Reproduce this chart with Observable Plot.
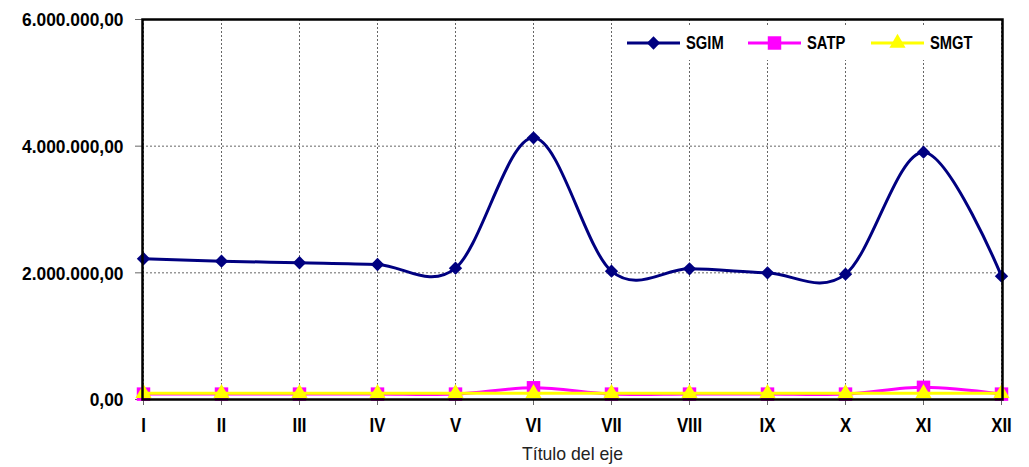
<!DOCTYPE html>
<html><head><meta charset="utf-8">
<script src="https://cdn.jsdelivr.net/npm/d3@7"></script>
<script src="https://cdn.jsdelivr.net/npm/@observablehq/plot@0.6"></script>
<style>
body{margin:0;background:#fff;}
#wrap{position:relative;width:1029px;height:467px;overflow:hidden;}
#legend{position:absolute;left:615px;top:25px;width:380px;height:35px;background:#fff;}
</style></head><body><div id="wrap"></div>
<script>
const months = ["I","II","III","IV","V","VI","VII","VIII","IX","X","XI","XII"];
const sgim = [2222000, 2184000, 2159000, 2132000, 2074000, 4132000, 2026000, 2063000, 2000000, 1979000, 3905000, 1947000];
const satp = [85000, 85000, 85000, 85000, 85000, 185000, 85000, 85000, 85000, 85000, 192000, 85000];
const smgt = [97000, 97000, 97000, 97000, 97000, 97000, 97000, 97000, 97000, 97000, 97000, 97000];
const yTicks = [0, 2000000, 4000000, 6000000];
const seriesNames = ["SGIM", "SATP", "SMGT"];
const seriesValues = [sgim, satp, smgt];
const colors = ["#000080", "#FF00FF", "#FFFF00"];
const symbols = ["diamond2", "square", "triangle"];
const symbolR = [6.0, 7.6, 6.0];
const axisTitle = "Título del eje";

const FONT = "'Liberation Sans',Arial,sans-serif";
const NARROW = 0.82;
const loc = d3.formatLocale({decimal: ",", thousands: ".", grouping: [3], currency: ["", ""]});
const fmt = loc.format(",.2f");

const data = seriesNames.flatMap((s, i) => months.map((m, j) => ({series: s, month: m, value: seriesValues[i][j]})));

const seriesMarks = seriesNames.flatMap((s, i) => {
  const d = data.filter(r => r.series === s);
  return [
    Plot.line(d, {x: "month", y: "value", stroke: colors[i], strokeWidth: 3, curve: "cardinal"}),
    Plot.dot(d, {x: "month", y: "value", symbol: () => symbols[i], fill: colors[i], stroke: "none", r: symbolR[i]})
  ];
});

const chart = Plot.plot({
  width: 1029, height: 467,
  marginLeft: 142, marginRight: 27, marginTop: 19, marginBottom: 68,
  style: {fontFamily: FONT, background: "white", color: "black"},
  x: {type: "point", domain: months, padding: 0, label: null},
  y: {domain: [0, 6000000], label: null},
  marks: [
    Plot.gridX(months, {stroke: "#666", strokeOpacity: 1, strokeDasharray: "2,2", strokeWidth: 1}),
    Plot.gridY([2000000, 4000000], {stroke: "#666", strokeOpacity: 1, strokeDasharray: "2,2", strokeWidth: 1}),
    Plot.axisY(yTicks, {tickFormat: fmt, tickSize: 7, tickPadding: 12, fontSize: 18.5, fontWeight: "bold", stroke: "#666", label: null}),
    Plot.axisX(months, {tickSize: 6, tickPadding: 12, fontSize: 20.5, fontWeight: "bold", stroke: "#666", label: null}),
    Plot.text([axisTitle], {frameAnchor: "bottom", dy: 60, fontSize: 18.6, fill: "#222"}),
    ...seriesMarks,
    Plot.frame({stroke: "black", strokeWidth: 2.5})
  ]
});
const wrap = document.getElementById("wrap");
wrap.appendChild(chart);

// condense text horizontally (Arial Narrow look)
function condense(el, k, dy) {
  const t = el.getAttribute("transform");
  const extra = `${dy ? ` translate(0,${dy})` : ""} scale(${k},1)`;
  if (t) {
    el.setAttribute("transform", t + extra);
  } else {
    const x = +el.getAttribute("x") || 0, y = +el.getAttribute("y") || 0;
    el.removeAttribute("x"); el.removeAttribute("y");
    el.setAttribute("transform", `translate(${x},${y})` + extra);
  }
}
const yFmt = new Set(yTicks.map(fmt));
chart.querySelectorAll("text").forEach(el => {
  const txt = el.textContent;
  if (txt === axisTitle) condense(el, 0.95, 0);
  else if (yFmt.has(txt)) condense(el, 0.94, 1);
  else condense(el, NARROW, 0);
});

// legend
const lg = d3.select(wrap).append("div").attr("id", "legend")
  .append("svg").attr("width", 380).attr("height", 35)
  .style("font-family", FONT);
const lineX = [12, 133, 256];
seriesNames.forEach((s, i) => {
  const g = lg.append("g").attr("transform", `translate(${lineX[i]},18)`);
  g.append("line").attr("x1", 0).attr("x2", 53).attr("y1", 0).attr("y2", 0)
    .attr("stroke", colors[i]).attr("stroke-width", 3);
  const symType = [d3.symbolDiamond2, d3.symbolSquare, d3.symbolTriangle][i];
  g.append("path").attr("transform", "translate(26.5,0)")
    .attr("d", d3.symbol(symType, symbolR[i] * symbolR[i] * Math.PI)())
    .attr("fill", colors[i]);
  g.append("text").attr("transform", `translate(59,0) scale(${NARROW},1)`).attr("dy", "0.36em")
    .attr("font-size", 18).attr("font-weight", "bold").text(s);
});
</script></body></html>
